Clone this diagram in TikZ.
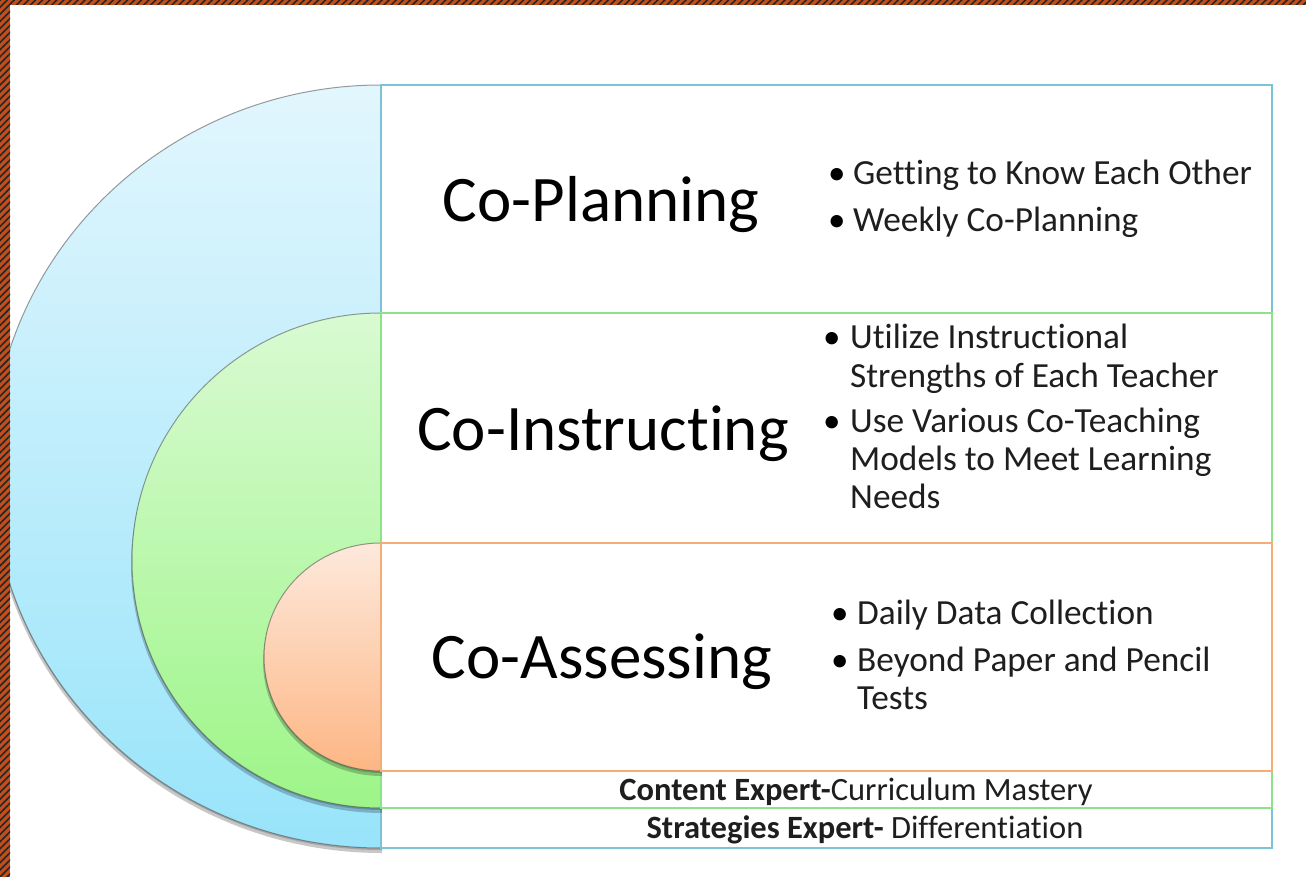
\documentclass[tikz,border=0pt]{standalone}
\usepackage{fontspec}
\setmainfont[Ligatures={NoCommon}]{Carlito}
\usetikzlibrary{patterns.meta}
\definecolor{borderc}{HTML}{C24E1B}
\definecolor{blueT}{HTML}{E2F6FD}
\definecolor{blueB}{HTML}{98E4FA}
\definecolor{blueL}{HTML}{7CC3D8}
\definecolor{greenT}{HTML}{D9FAD2}
\definecolor{greenB}{HTML}{9DF588}
\definecolor{greenL}{HTML}{8DE387}
\definecolor{orangeT}{HTML}{FDE9DC}
\definecolor{orangeB}{HTML}{FDB684}
\definecolor{orangeL}{HTML}{F5AC76}
\definecolor{txt}{HTML}{1E1E1E}
\tikzset{
  headline/.style={font=\fontsize{65}{78}\selectfont, anchor=base, text=black, inner sep=0pt},
  btxt/.style={font=\fontsize{35.3}{39}\selectfont, anchor=base west, text=txt, inner sep=0pt},
  bul/.style={font=\fontsize{35}{39}\selectfont, anchor=base west, text=black, inner sep=0pt},
  small/.style={font=\fontsize{32.5}{36}\selectfont, anchor=base, text=txt, inner sep=0pt},
  shadowfill/.style={fill=black, opacity=0.22},
  shadowfill2/.style={fill=black, opacity=0.18},
  rim/.style={draw=black!70, opacity=0.55, line width=1pt},
  boxline/.style={line width=2pt, fill=white}
}
\begin{document}
\begin{tikzpicture}[x=1pt,y=-1pt]
\useasboundingbox (0,0) rectangle (1306,877);
\fill[white] (0,0) rectangle (1306,877);

% ---- blue layer
\fill[shadowfill] (382,89) arc[start angle=270,end angle=90,x radius=392,y radius=382] -- cycle;
\fill[shadowfill2] (382,87) arc[start angle=270,end angle=90,x radius=391,y radius=381.5] -- cycle;
\shade[top color=blueT, bottom color=blueB] (381,85) arc[start angle=270,end angle=90,x radius=390,y radius=381.5] -- cycle;
\draw[rim] (381,85) arc[start angle=270,end angle=90,x radius=390,y radius=381.5];
\draw[boxline, draw=blueL] (381,85) rectangle (1272,848);

% ---- green layer
\fill[shadowfill] (382,317) arc[start angle=270,end angle=90,x radius=251,y radius=248] -- cycle;
\fill[shadowfill2] (382,315) arc[start angle=270,end angle=90,x radius=250,y radius=247.5] -- cycle;
\shade[top color=greenT, bottom color=greenB] (381,313) arc[start angle=270,end angle=90,x radius=249,y radius=247.5] -- cycle;
\draw[rim] (381,313) arc[start angle=270,end angle=90,x radius=249,y radius=247.5];
\draw[boxline, draw=greenL] (381,313) rectangle (1272,808);

% ---- orange layer
\fill[shadowfill] (382,547) arc[start angle=270,end angle=90,x radius=119,y radius=114.5] -- cycle;
\fill[shadowfill2] (382,545) arc[start angle=270,end angle=90,x radius=118,y radius=114] -- cycle;
\shade[top color=orangeT, bottom color=orangeB] (381,543) arc[start angle=270,end angle=90,x radius=117,y radius=114] -- cycle;
\draw[rim] (381,543) arc[start angle=270,end angle=90,x radius=117,y radius=114];
\draw[boxline, draw=orangeL] (381,543) rectangle (1272,771);

% ---- headlines
\node[headline] (plan) at (601,222) {Co-Planning};
\node[headline] (instr) at (603,450) {Co-Instructing};
\node[headline] (assess) at (602,678) {Co-Assessing};

% ---- Co-Planning bullets
\node[bul] (pb1) at (828,185) {•};
\node[btxt] (p1) at (853,185) {Getting to Know Each Other};
\node[bul] (pb2) at (828,232) {•};
\node[btxt] (p2) at (853,232) {Weekly Co-Planning};

% ---- Co-Instructing bullets
\node[bul] (ib1) at (823,348) {•};
\node[btxt] (i1a) at (850,348) {Utilize Instructional};
\node[btxt] (i1b) at (850,387) {Strengths of Each Teacher};
\node[bul] (ib2) at (823,432) {•};
\node[btxt] (i2a) at (850,432) {Use Various Co-Teaching};
\node[btxt] (i2b) at (850,470) {Models to Meet Learning};
\node[btxt] (i2c) at (850,508) {Needs};

% ---- Co-Assessing bullets
\node[bul] (ab1) at (831,624) {•};
\node[btxt] (a1) at (857,624) {Daily Data Collection};
\node[bul] (ab2) at (831,671) {•};
\node[btxt] (a2a) at (857,671) {Beyond Paper and Pencil};
\node[btxt] (a2b) at (857,709) {Tests};

% ---- bottom strips
\node[small] (content) at (856,800) {\textbf{Content Expert-}Curriculum Mastery};
\node[small] (strat) at (865,838) {\textbf{Strategies Expert-} Differentiation};

% ---- hatched frame
\fill[borderc] (0,0) rectangle (10,877);
\fill[borderc] (0,0) rectangle (1306,5);
\fill[pattern={Lines[angle=45,distance=5pt,line width=1.6pt]}, pattern color=black!85] (0,0) rectangle (10,877);
\fill[pattern={Lines[angle=45,distance=5pt,line width=1.6pt]}, pattern color=black!85] (10,0) rectangle (1306,5);
\end{tikzpicture}
\end{document}
